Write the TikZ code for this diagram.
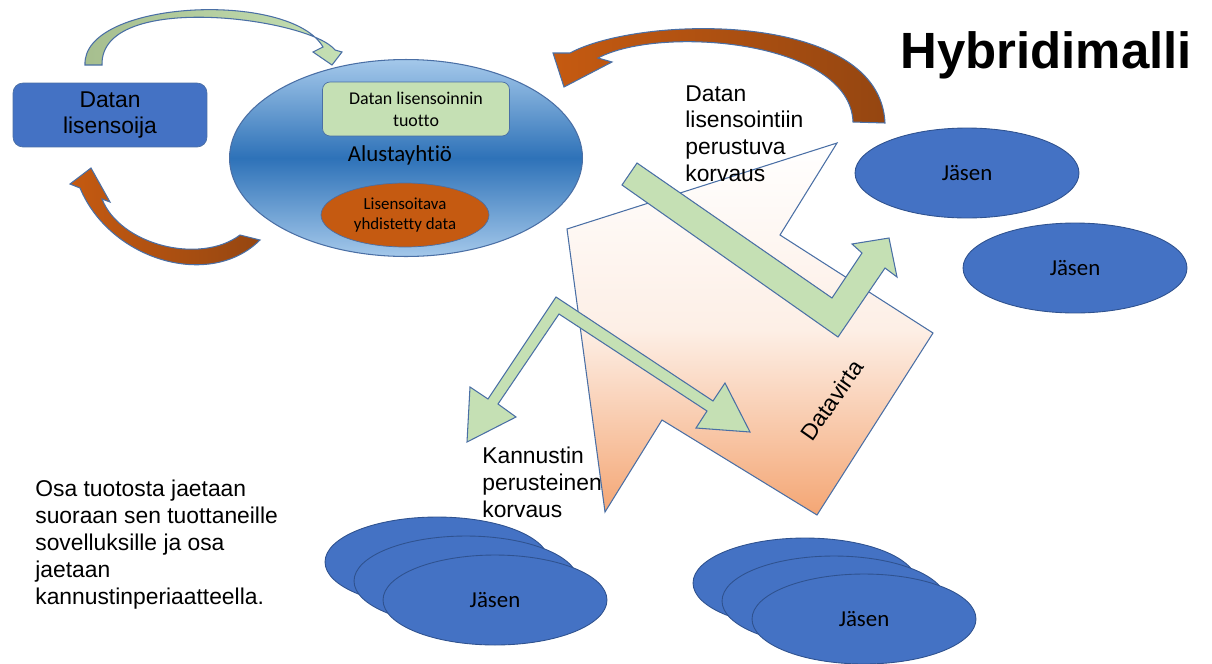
\documentclass[tikz,border=0pt]{standalone}
\usepackage{fontspec}
\setmainfont{Liberation Sans}
\newfontfamily\calibri[Ligatures=NoCommon]{Carlito}
\usetikzlibrary{shapes.geometric}
\definecolor{perussin}{HTML}{4472C4}
\definecolor{tummasin}{HTML}{2F528F}
\definecolor{vaaleasin}{HTML}{A4C8EA}
\definecolor{keskisin}{HTML}{2E72B8}
\definecolor{reuna}{HTML}{4A6FA5}
\definecolor{vaaleavihr}{HTML}{C5E0B4}
\definecolor{oliivi}{HTML}{A6BE8E}
\definecolor{oranssi}{HTML}{C55A11}
\definecolor{ruskea}{HTML}{954611}
\definecolor{persikka}{HTML}{F4A674}
\begin{document}
\begin{tikzpicture}[x=0.02cm,y=-0.02cm,
	nuoli/.style={draw=reuna,line width=.6pt,line join=miter},
	vihrnuoli/.style={nuoli,fill=vaaleavihr},
	jasen/.style={ellipse,draw=tummasin,line width=.5pt,fill=perussin,minimum width=4.48cm,minimum height=1.8cm,inner sep=0,font=\calibri\fontsize{13}{15}\selectfont},
	teksti/.style={anchor=north west,inner sep=0,align=left,font=\fontsize{13}{15.3}\selectfont}]
	\useasboundingbox (0,0) rectangle (1212,663);
	%datavirta
	\draw[nuoli,top color=white,bottom color=persikka,middle color=persikka!18]
	(567,229) -- (837,143) -- (780,235) -- (933,333) -- (817,515) -- (662,420) -- (605,512) -- cycle;
	\node[rotate=55,font=\fontsize{13}{15}\selectfont] (virta) at (832,400) {Datavirta};
	%vihreat nuolet
	\draw[vihrnuoli] (637,163) -- (832,298) -- (862,253) -- (852,244) -- (889,238) -- (897,277)
	-- (885,268) -- (838,337) -- (622,185) -- cycle;
	\draw[vihrnuoli] (556,297) -- (713,401) -- (725,383) -- (750,432) -- (696,428) -- (707,411)
	-- (559,314) -- (498,404) -- (516,417) -- (467,442) -- (470,387) -- (488,399) -- cycle;
	%kaarinuolet
	\draw[nuoli,left color=oliivi,right color=vaaleavihr]
	(85,65) .. controls (82,0) and (290,-10) .. (323,47) -- (313,52) -- (332,65) -- (342,52) -- (335,50)
	.. controls (310,18) and (100,-10) .. (102,65) -- cycle;
	\draw[nuoli,left color=oranssi,right color=ruskea]
	(80,188) .. controls (110,260) and (210,290) .. (260,240) -- (240,235)
	.. controls (200,265) and (120,245) .. (102,199) -- (110,202) -- (91,168) -- (70,184) -- cycle;
	\draw[nuoli,left color=oranssi,right color=ruskea]
	(570,53) .. controls (640,15) and (880,10) .. (885,123) -- (853,122)
	.. controls (850,40) and (660,25) .. (598,58) -- (612,62) -- (564,87) -- (553,53) -- cycle;
	%alustayhtio
	\node[draw=reuna,fill=perussin,rounded corners=.2cm,minimum width=3.88cm,minimum height=1.28cm,
	align=center,font=\fontsize{13}{15.3}\selectfont] (lisensoija) at (110,115) {Datan\\lisensoija};
	\node[ellipse,draw=reuna,line width=.6pt,top color=vaaleasin,bottom color=vaaleasin,middle color=keskisin,
	minimum width=7.06cm,minimum height=3.94cm] (alusta) at (406,158) {};
	\node[draw=reuna,fill=vaaleavihr,rounded corners=.15cm,minimum width=3.74cm,minimum height=1.08cm,
	align=center,font=\calibri\fontsize{10.2}{12.5}\selectfont] (tuotto) at (416,109) {Datan lisensoinnin\\tuotto};
	\node[font=\calibri\fontsize{13}{15}\selectfont] (alustanimi) at (400,155) {Alustayhtiö};
	\node[ellipse,draw=reuna,fill=oranssi,minimum width=3.36cm,minimum height=1.28cm,inner sep=0,
	align=center,font=\calibri\fontsize{9.6}{11.4}\selectfont] (data) at (405,215) {Lisensoitava\\yhdistetty data};
	%jasenet
	\node[jasen] (j1) at (967,173) {Jäsen};
	\node[jasen] (j2) at (1075,268) {Jäsen};
	\foreach \i in {0,1}
	\node[jasen] (a\i) at ({437+29*\i},{562+19*\i}) {};
	\node[jasen] (a2) at (495,600) {Jäsen};
	\foreach \i in {0,1}
	\node[jasen] (b\i) at ({805+29*\i},{583+18*\i}) {};
	\node[jasen] (b2) at (864,619) {Jäsen};
	%tekstit
	\node[anchor=base west,inner sep=0,font=\bfseries\fontsize{29}{34}\selectfont] (otsikko) at (900,68) {Hybridimalli};
	\node[teksti] (korvaus) at (685,85) {Datan\\lisensointiin\\perustuva\\korvaus};
	\node[teksti] (kannustin) at (482,447) {Kannustin\\perusteinen\\korvaus};
	\node[teksti] (osa) at (35,480) {Osa tuotosta jaetaan\\suoraan sen tuottaneille\\sovelluksille ja osa\\jaetaan\\kannustinperiaatteella.};
\end{tikzpicture}
\end{document}
